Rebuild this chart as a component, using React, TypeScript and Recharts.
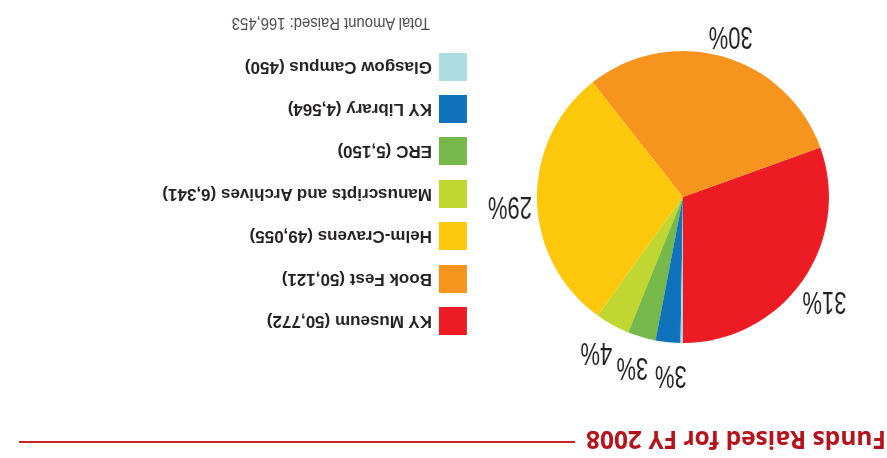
import { PieChart, Pie, Cell, Legend } from "recharts";

const names = [
  "KY Museum",
  "Book Fest",
  "Helm-Cravens",
  "Manuscripts and Archives",
  "ERC",
  "KY Library",
  "Glasgow Campus",
];
const amounts = [50772, 50121, 49055, 6341, 5150, 4564, 450];
const colors = [
  "#ed1c24",
  "#f7941d",
  "#fdc80c",
  "#bfd730",
  "#76b84a",
  "#0f72ba",
  "#addde2",
];

const total = amounts.reduce((a, b) => a + b, 0);
const chartData = names.map((name, i) => ({ name, value: amounts[i] }));

const START = 90;
const RAD = Math.PI / 180;

// label angles: slice mid angles, pushed apart where small slices crowd together
const labelAngles = (() => {
  let acc = START;
  const mids = amounts.map((v) => {
    const a = (v / total) * 360;
    const m = acc + a / 2;
    acc += a;
    return m;
  });
  const shown = amounts.map((v) => v / total >= 0.01);
  const idx = mids.map((_, i) => i).filter((i) => shown[i]);
  const minSep = 13;
  for (let it = 0; it < 50; it++) {
    for (let k = 1; k < idx.length; k++) {
      const a = idx[k - 1];
      const b = idx[k];
      const gap = mids[b] - mids[a];
      if (gap < minSep) {
        const push = (minSep - gap) / 2;
        mids[a] -= push;
        mids[b] += push;
      }
    }
  }
  return mids;
})();

function PercentLabel(props: any) {
  const { cx, cy, outerRadius, percent, index } = props;
  if (percent < 0.01) return null;
  const ang = labelAngles[index];
  const r = outerRadius + 27;
  const x = cx + r * Math.cos(-ang * RAD);
  const y = cy + r * Math.sin(-ang * RAD);
  return (
    <text
      transform={`translate(${x},${y + 4}) scale(0.71,1)`}
      textAnchor="middle"
      fill="#231f20"
      style={{ fontFamily: "'Liberation Sans', Arial, sans-serif", fontSize: 31 }}
    >
      {Math.round(percent * 100)}%
    </text>
  );
}

function LegendList() {
  return (
    <div>
      {names.map((name, i) => (
        <div
          key={name}
          style={{ display: "flex", alignItems: "center", height: 28, marginBottom: 14.4 }}
        >
          <div style={{ width: 28, height: 28, background: colors[i], marginRight: 7 }} />
          <span
            style={{
              fontFamily: "'Liberation Sans', Arial, sans-serif",
              fontWeight: 700,
              fontSize: 17,
              color: "#231f20",
            }}
          >
            {name} ({amounts[i].toLocaleString("en-US")})
          </span>
        </div>
      ))}
    </div>
  );
}

export default function App() {
  return (
    <div
      style={{
        position: "fixed",
        left: 0,
        top: 0,
        width: 887,
        height: 458,
        background: "#fff",
        transform: "rotate(180deg)",
        overflow: "hidden",
      }}
    >
      <div
        style={{
          position: "absolute",
          left: 1,
          top: 1,
          fontFamily: "'Open Sans', sans-serif",
          fontWeight: 700,
          fontSize: 24.5,
          color: "#b5121b",
          whiteSpace: "nowrap",
        }}
      >
        Funds Raised for FY 2008
      </div>
      <div
        style={{
          position: "absolute",
          left: 312,
          top: 15,
          width: 556,
          height: 2,
          background: "#cc2229",
        }}
      />
      <PieChart width={887} height={458} margin={{ top: 0, right: 0, bottom: 0, left: 0 }}>
        <Pie
          data={chartData}
          dataKey="value"
          nameKey="name"
          cx={204}
          cy={261}
          outerRadius={146}
          startAngle={START}
          endAngle={START + 360}
          stroke="none"
          label={PercentLabel}
          labelLine={false}
          isAnimationActive={false}
        >
          {chartData.map((d, i) => (
            <Cell key={d.name} fill={colors[i]} />
          ))}
        </Pie>
        <Legend
          layout="vertical"
          content={() => <LegendList />}
          wrapperStyle={{ position: "absolute", left: 420, top: 123, width: 420 }}
        />
      </PieChart>
      <div
        style={{
          position: "absolute",
          left: 457,
          top: 425,
          fontFamily: "'Liberation Sans', Arial, sans-serif",
          fontSize: 16.5,
          color: "#4a4a4a",
          whiteSpace: "nowrap",
          transform: "scaleX(0.9)",
          transformOrigin: "left center",
        }}
      >
        Total Amount Raised: {total.toLocaleString("en-US")}
      </div>
    </div>
  );
}
